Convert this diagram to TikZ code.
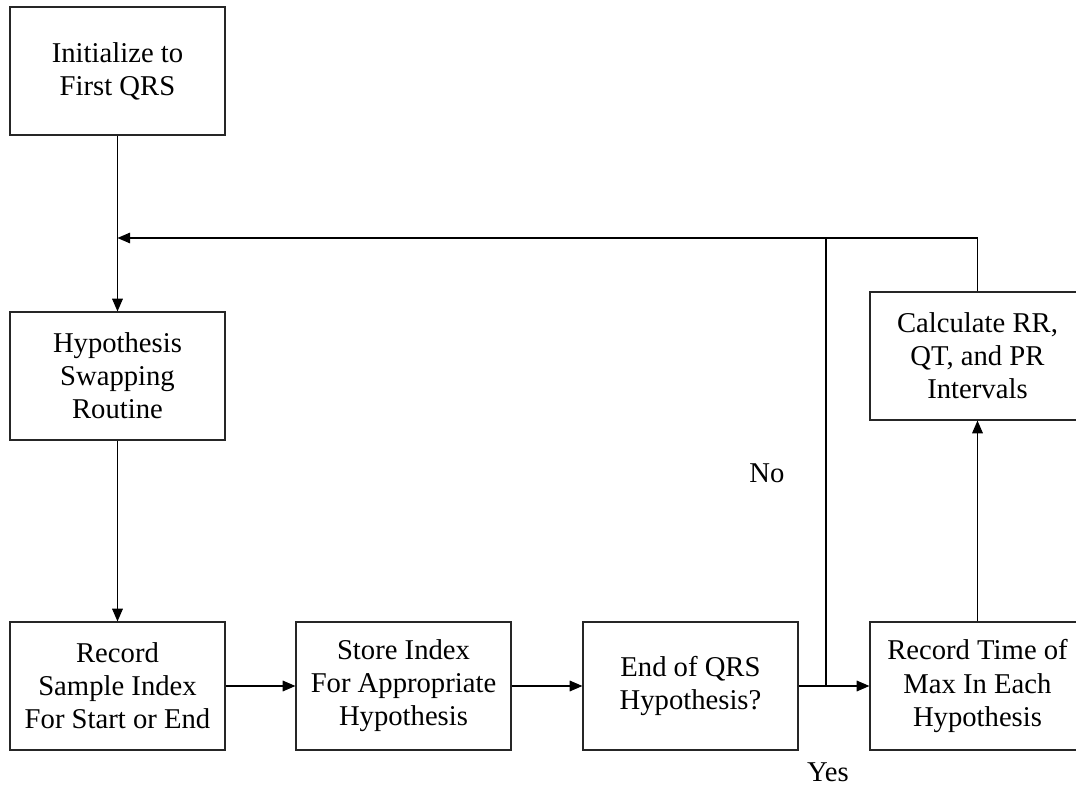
\documentclass[tikz,border=0pt]{standalone}
\usepackage{fontspec}
\setmainfont{Liberation Serif}
\usetikzlibrary{arrows.meta}
\tikzset{
  procbox/.style={draw=black!85, line width=0.9pt, minimum width=161.25pt, minimum height=96pt, inner sep=0pt, align=center, font=\fontsize{21.5pt}{24.8pt}\selectfont},
  conn/.style={draw=black, line width=0.8pt},
  arr/.style={conn, -{Triangle[length=9.5pt, width=8pt]}},
  lbl/.style={font=\fontsize{21.5pt}{24.8pt}\selectfont, inner sep=0pt}
}
\begin{document}
\begin{tikzpicture}[x=0.75pt, y=-0.75pt]
\useasboundingbox (0,0) rectangle (1076,788);
\clip (0,0) rectangle (1076,788);
\fill[white] (0,0) rectangle (1076,788);
\node[procbox] (b1) at (117.5,71) {Initialize to\\First QRS};
\node[procbox] (b2) at (117.5,376) {Hypothesis\\Swapping\\Routine};
\node[procbox] (b3) at (117.5,686) {Record\\Sample Index\\For Start or End};
\node[procbox] (b4) at (403.5,686) {Store Index\\For Appropriate\\Hypothesis};
\node[procbox] (b5) at (690.5,686) {End of QRS\\Hypothesis?};
\node[procbox] (b6) at (977.5,686) {Record Time of\\Max In Each\\Hypothesis};
\node[procbox] (b7) at (977.5,356) {Calculate RR,\\QT, and PR\\Intervals};
\coordinate (join) at (117.5,238);
\coordinate (top) at (826,238);
\coordinate (fork) at (826,686);
\draw[arr] (b1) -- (b2);
\draw[arr] (b2) -- (b3);
\draw[arr] (b3) -- (b4);
\draw[arr] (b4) -- (b5);
\draw[arr] (b5) -- (b6);
\draw[arr] (b6) -- (b7);
\draw[arr] (b7.north) |- (join);
\draw[conn] (top) -- (fork);
\node[lbl] (no) at (767,473) {No};
\node[lbl] (yes) at (828,772) {Yes};
\end{tikzpicture}
\end{document}
